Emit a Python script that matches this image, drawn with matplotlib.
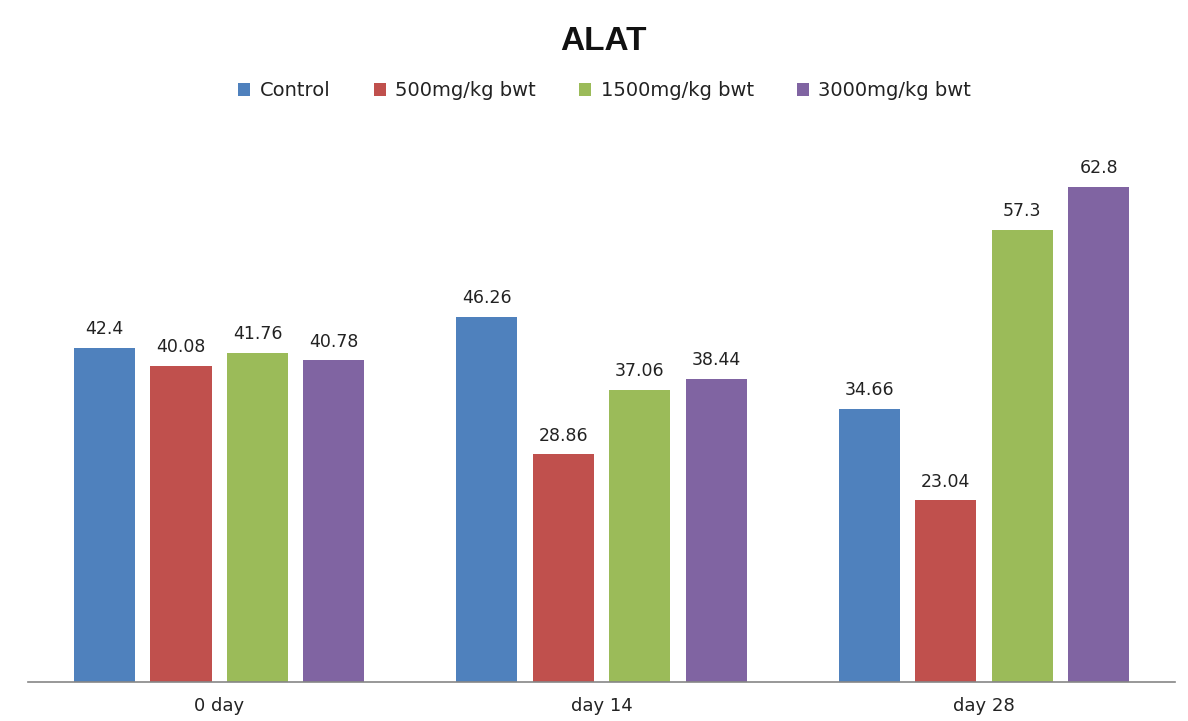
import numpy as np
import matplotlib.pyplot as plt

plt.rcParams['font.family'] = ['DejaVu Sans']

# ALAT values per group and time point
days = ["0 day", "day 14", "day 28"]
groups = ["Control", "500mg/kg bwt", "1500mg/kg bwt", "3000mg/kg bwt"]
control = [42.4, 46.26, 34.66]
dose_500 = [40.08, 28.86, 23.04]
dose_1500 = [41.76, 37.06, 57.3]
dose_3000 = [40.78, 38.44, 62.8]
colors = ["#4F81BD", "#C0504D", "#9BBB59", "#8064A2"]

series = [control, dose_500, dose_1500, dose_3000]

fig = plt.figure(figsize=(11.88, 7.21), dpi=100)
ax = fig.add_axes([0.0236, 0.0541, 0.9655, 0.7656])

x = np.arange(len(days))
width = 0.16
step = 0.2
for i, (vals, name, c) in enumerate(zip(series, groups, colors)):
    pos = x + (i - 1.5) * step
    bars = ax.bar(pos, vals, width, color=c, label=name)
    for b, v in zip(bars, vals):
        ax.annotate(f"{v:g}", (b.get_x() + b.get_width() / 2, v),
                    xytext=(0, 7), textcoords="offset points",
                    ha="center", va="bottom", fontsize=12.5, color="#222222")

ax.set_xlim(-0.5, 2.5)
ax.set_ylim(0, 70)
ax.set_xticks(x)
ax.set_xticklabels(days, fontsize=13, color="#222222")
ax.tick_params(axis="x", length=0, pad=11)
ax.set_yticks([])
for s in ["top", "right", "left"]:
    ax.spines[s].set_visible(False)
ax.spines["bottom"].set_color("#868686")
ax.spines["bottom"].set_linewidth(1.2)

fig.text(0.5076, 0.9307, "ALAT", ha="center", va="baseline",
         fontsize=24, fontweight="bold", color="#111111",
         family="Liberation Sans")

leg = fig.legend(loc="center", bbox_to_anchor=(0.509, 0.874), ncol=4,
                 frameon=False, fontsize=14, handlelength=0.62,
                 handleheight=0.62, handletextpad=0.5, columnspacing=2.2)
for t in leg.get_texts():
    t.set_color("#222222")

fig.savefig("out.png", dpi=100, facecolor="white")
